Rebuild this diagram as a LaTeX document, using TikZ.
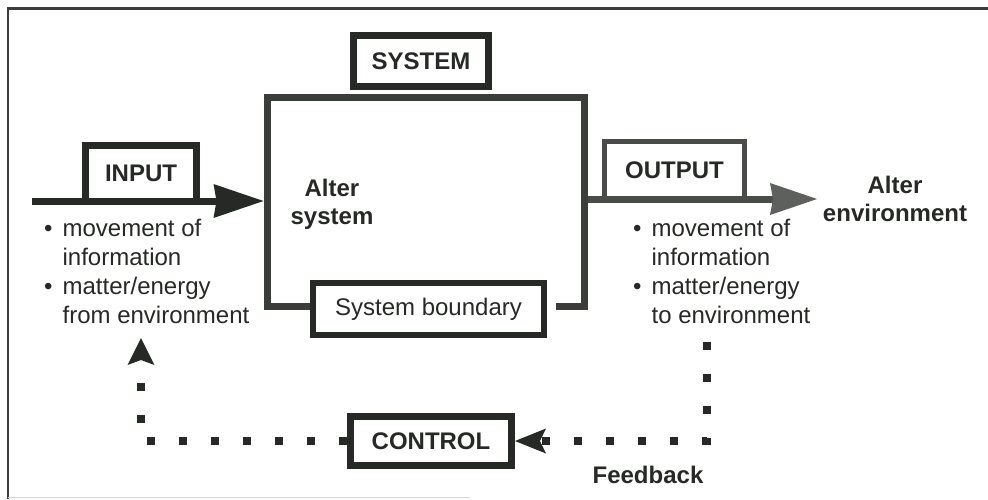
\documentclass[tikz,border=0pt]{standalone}
\usepackage{fontspec}
\setmainfont{Liberation Sans}
\usetikzlibrary{arrows.meta}
\definecolor{ink}{HTML}{262926}
\definecolor{frameink}{HTML}{3B3D3B}
\definecolor{outink}{HTML}{4A4C4A}
\definecolor{outhead}{HTML}{5E605E}
\definecolor{pageedge}{HTML}{D6D6D6}
\begin{document}
\begin{tikzpicture}[x=1pt,y=-1pt,
  every node/.style={text=ink, inner sep=0pt},
  labelbox/.style={draw=ink, line width=7pt, fill=white,
    font=\fontsize{24}{29}\selectfont\bfseries},
  bodytext/.style={font=\fontsize{24}{29}\selectfont},
  headtext/.style={font=\fontsize{24}{28}\selectfont\bfseries},
  sysline/.style={draw=frameink, line width=7pt, line join=miter},
  feedline/.style={draw=ink, line width=8pt, line cap=butt,
    dash pattern=on 8pt off 24pt}]

\useasboundingbox (0,0) rectangle (988,499);
\fill[white] (0,0) rectangle (988,499);

% page border
\draw[frameink, line width=2.5pt] (8,499) -- (8,8.5) -- (988,8.5);
\draw[pageedge, line width=1.5pt] (8,497.5) -- (470,497.5);

% corners of the system frame (centre line)
\coordinate (sysNW) at (267,97);
\coordinate (sysNE) at (584,97);
\coordinate (sysSW) at (267,306);
\coordinate (sysSE) at (584,306);
\coordinate (sysGap) at (556,306);
\coordinate (sysW) at (263.5,201);
\coordinate (sysE) at (587.5,199);

% labelled boxes
\node[labelbox, minimum width=135pt, minimum height=51pt] (system) at (421,61) {SYSTEM};
\node[labelbox, line width=6pt, minimum width=231pt, minimum height=52pt,
      font=\fontsize{24}{29}\selectfont] (boundary) at (428.5,309) {System boundary};
\node[labelbox, minimum width=111pt, minimum height=56pt] (input) at (141,173) {INPUT};
\node[labelbox, draw=outink, line width=5pt, minimum width=140pt, minimum height=58pt]
      (output) at (674.5,170) {OUTPUT};
\node[labelbox, minimum width=161pt, minimum height=49pt] (control) at (431,441) {CONTROL};

% system frame, open where the boundary box sits
\draw[sysline] (boundary.west |- sysSW) -- (sysSW) -- (sysNW) -- (sysNE) -- (sysSE) -- (sysGap);

% input and output flows
\coordinate (inStart) at (32,201);
\coordinate (outEnd) at (817,199);
\draw[ink, line width=7pt,
  -{Stealth[length=50pt, width=34pt, inset=3pt, line width=0pt]}] (inStart) -- (sysW);
\draw[outink, line width=7pt,
  -{Stealth[length=47pt, width=32pt, inset=3pt, line width=0pt, color=outhead]}] (sysE) -- (outEnd);

% feedback loop
\coordinate (fbTop) at (707,342);
\coordinate (fbLeft) at (141,338);
\draw[feedline, -{Stealth[length=31pt, width=25pt, inset=6pt, line width=0pt]}]
  (fbTop) |- (control.east);
\draw[feedline, -{Stealth[length=27pt, width=27pt, inset=5pt, line width=0pt]}]
  (control.west) -| (fbLeft);

% texts
\node[bodytext, anchor=base west] (inlist) at (44,236)
  {\begin{tabular}[t]{@{}l@{\hspace{10pt}}l@{}}
   • & movement of\\ & information\\ • & matter/energy\\ & from environment
   \end{tabular}};
\node[bodytext, anchor=base west] (outlist) at (633,236)
  {\begin{tabular}[t]{@{}l@{\hspace{10pt}}l@{}}
   • & movement of\\ & information\\ • & matter/energy\\ & to environment
   \end{tabular}};
\node[headtext, anchor=base] (altersys) at (332,196)
  {\begin{tabular}[t]{@{}c@{}}Alter\\system\end{tabular}};
\node[headtext, anchor=base] (alterenv) at (895,193)
  {\begin{tabular}[t]{@{}c@{}}Alter\\environment\end{tabular}};
\node[headtext] (feedback) at (648,475) {Feedback};
\end{tikzpicture}
\end{document}
